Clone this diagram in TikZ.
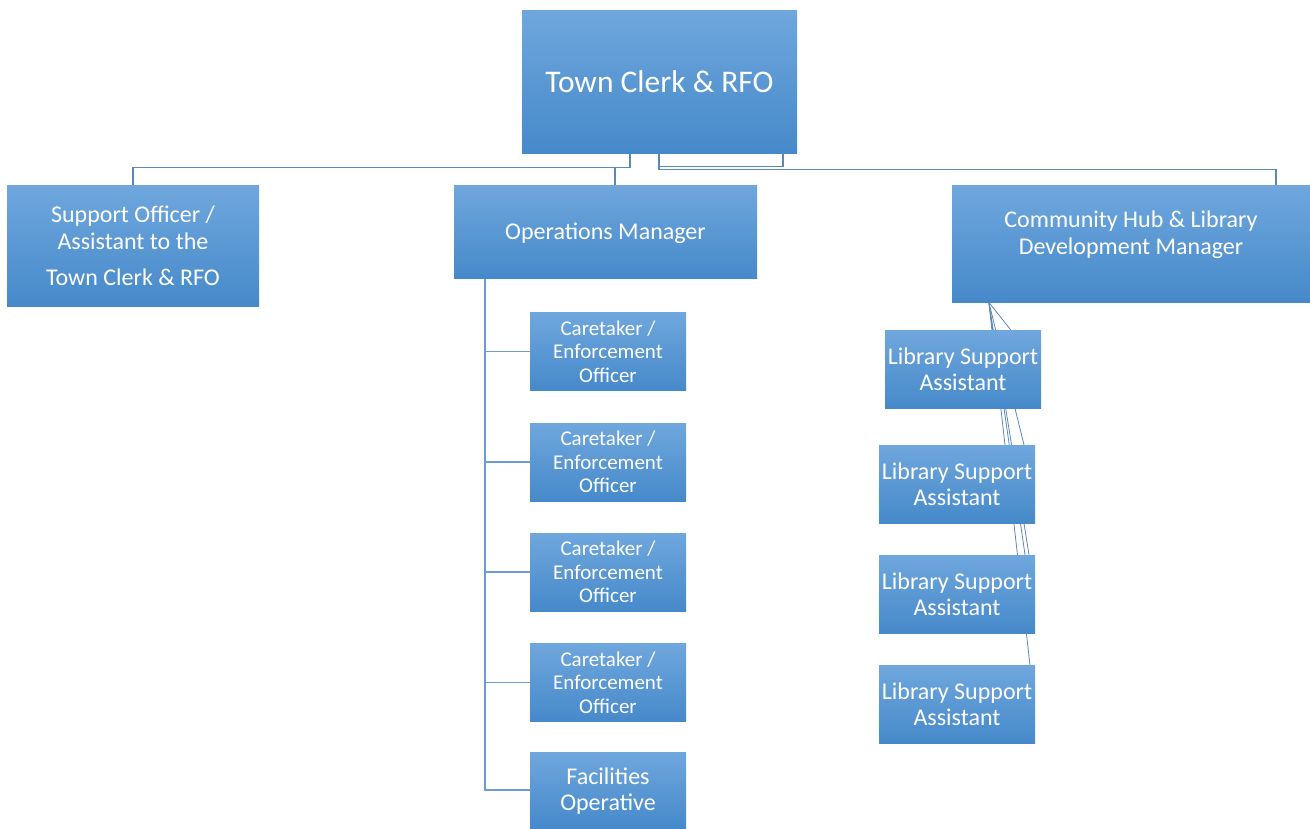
\documentclass[tikz,border=0pt]{standalone}
\usepackage{fontspec}
\setmainfont{Carlito}
\usetikzlibrary{backgrounds}
\definecolor{boxtop}{HTML}{6FA7DD}
\definecolor{boxbot}{HTML}{4689CA}
\definecolor{linkcol}{HTML}{5A88BA}
\definecolor{trunkcol}{HTML}{6C9DD2}
\tikzset{
  box/.style 2 args={rectangle, top color=boxtop, bottom color=boxbot, draw=none,
    text=white, align=center, inner sep=0pt, minimum width=#1, minimum height=#2,
    font=\fontsize{24}{27}\selectfont},
  staffbox/.style={box={156pt}{78pt}, font=\fontsize{21}{23.3}\selectfont},
  libbox/.style={box={156pt}{78pt}, font=\fontsize{24}{26}\selectfont},
  link/.style={draw=linkcol, line width=1.2pt},
  trunk/.style={draw=trunkcol, line width=1.5pt},
  fanlink/.style={draw=linkcol, line width=0.8pt}
}

\begin{document}
\begin{tikzpicture}[x=1pt, y=-1pt]
		% boxes
		\node[box={275pt}{143pt}, font=\fontsize{31.5}{36}\selectfont] (clerk) at (659.5,81.5) {Town Clerk \& RFO};
		\node[box={252pt}{121pt}] (support) at (133,245.5) {Support Officer /\\Assistant to the\\[9pt]Town Clerk \& RFO};
		\node[box={303pt}{93pt}] (ops) at (605.5,231.5) {\raisebox{-2pt}[\height][\depth]{Operations Manager}};
		\node[box={358pt}{117pt}] (hub) at (1131,243.5)
			{\raisebox{8pt}[\height][\depth]{\begin{tabular}{@{}c@{}}Community Hub \& Library\\Development Manager\end{tabular}}};
		\foreach \y [count=\i] in {351.5,462,572,682.5}
			\node[staffbox] (care\i) at (608,\y) {Caretaker /\\Enforcement\\Officer};
		\node[libbox, minimum height=76pt] (fac) at (608,790) {\raisebox{-2pt}[\height][\depth]{\begin{tabular}{@{}c@{}}Facilities\\Operative\end{tabular}}};
		\node[libbox] (lib1) at (963,369.5) {Library Support\\Assistant};
		\foreach \y [count=\i from 2] in {484,594,704.5}
			\node[libbox] (lib\i) at (957,\y) {Library Support\\Assistant};

		% connectors
		\begin{scope}[on background layer]
			\useasboundingbox[fill=white] (0,0) rectangle (1310,825);
			\draw[link] ([xshift=-29.5pt]clerk.south) -- ++(0,14) -| (support.north);
			\draw[link] ([xshift=9.5pt]ops.north) -- ++(0,-18);
			\draw[link] ([xshift=-0.5pt]clerk.south) -- ++(0,16) -| ([xshift=145pt]hub.north);
			\draw[link] ([xshift=-0.5pt,yshift=-13pt]clerk.south) -| ([xshift=123.5pt]clerk.south);
			\foreach \n in {care1,care2,care3,care4,fac}
				\draw[trunk] ([xshift=31pt]ops.south west) |- (\n.west);
			\coordinate (fan) at ([xshift=37pt]hub.south west);
			\foreach \t/\s in {lib1/48, lib2/67, lib3/68, lib3/72, lib4/73}
				\draw[fanlink] (fan) -- ([xshift=\s pt]\t.north);
		\end{scope}
	\end{tikzpicture}
\end{document}
